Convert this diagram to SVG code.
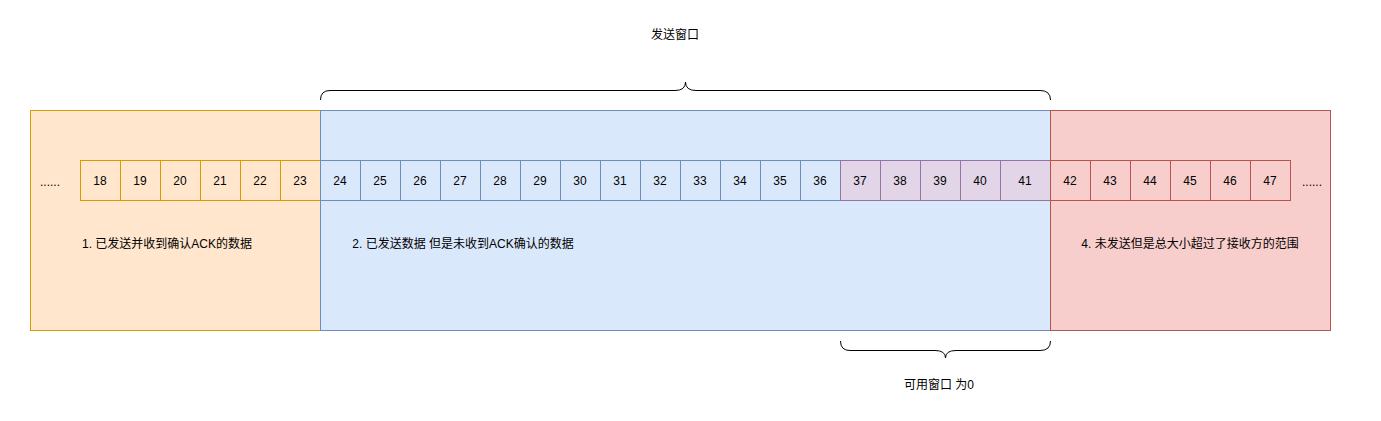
<svg xmlns="http://www.w3.org/2000/svg" width="1381" height="421" viewBox="0 0 1381 421">
<style>
text{font-family:"Liberation Sans","Noto Sans CJK SC",sans-serif;font-size:12px;fill:#000;text-anchor:middle;dominant-baseline:central}
.o{fill:#ffe6cc;stroke:#d79b00}
.b{fill:#dae8fc;stroke:#6c8ebf}
.r{fill:#f8cecc;stroke:#b85450}
.p{fill:#e1d5e7;stroke:#9673a6}
.br{fill:none;stroke:#000;stroke-width:1}
</style>
<rect width="1381" height="421" fill="#fff"/>
<g id="region1"><rect class="o" x="30.5" y="110.5" width="290" height="220"/><text x="167" y="244">1. 已发送并收到确认ACK的数据</text></g>
<g id="region2"><rect class="b" x="320.5" y="110.5" width="730" height="220"/><text x="463" y="244">2. 已发送数据 但是未收到ACK确认的数据</text></g>
<g id="region4"><rect class="r" x="1050.5" y="110.5" width="280" height="220"/><text x="1190" y="244">4. 未发送但是总大小超过了接收方的范围</text></g>
<g id="dots-left"><text x="50" y="182">......</text></g>
<g id="dots-right"><text x="1312" y="182">......</text></g>
<g id="cells">
<g id="c18"><rect class="o" x="80.5" y="160.5" width="40" height="40"/><text x="100" y="181">18</text></g>
<g id="c19"><rect class="o" x="120.5" y="160.5" width="40" height="40"/><text x="140" y="181">19</text></g>
<g id="c20"><rect class="o" x="160.5" y="160.5" width="40" height="40"/><text x="180" y="181">20</text></g>
<g id="c21"><rect class="o" x="200.5" y="160.5" width="40" height="40"/><text x="220" y="181">21</text></g>
<g id="c22"><rect class="o" x="240.5" y="160.5" width="40" height="40"/><text x="260" y="181">22</text></g>
<g id="c23"><rect class="o" x="280.5" y="160.5" width="40" height="40"/><text x="300" y="181">23</text></g>
<g id="c24"><rect class="b" x="320.5" y="160.5" width="40" height="40"/><text x="340" y="181">24</text></g>
<g id="c25"><rect class="b" x="360.5" y="160.5" width="40" height="40"/><text x="380" y="181">25</text></g>
<g id="c26"><rect class="b" x="400.5" y="160.5" width="40" height="40"/><text x="420" y="181">26</text></g>
<g id="c27"><rect class="b" x="440.5" y="160.5" width="40" height="40"/><text x="460" y="181">27</text></g>
<g id="c28"><rect class="b" x="480.5" y="160.5" width="40" height="40"/><text x="500" y="181">28</text></g>
<g id="c29"><rect class="b" x="520.5" y="160.5" width="40" height="40"/><text x="540" y="181">29</text></g>
<g id="c30"><rect class="b" x="560.5" y="160.5" width="40" height="40"/><text x="580" y="181">30</text></g>
<g id="c31"><rect class="b" x="600.5" y="160.5" width="40" height="40"/><text x="620" y="181">31</text></g>
<g id="c32"><rect class="b" x="640.5" y="160.5" width="40" height="40"/><text x="660" y="181">32</text></g>
<g id="c33"><rect class="b" x="680.5" y="160.5" width="40" height="40"/><text x="700" y="181">33</text></g>
<g id="c34"><rect class="b" x="720.5" y="160.5" width="40" height="40"/><text x="740" y="181">34</text></g>
<g id="c35"><rect class="b" x="760.5" y="160.5" width="40" height="40"/><text x="780" y="181">35</text></g>
<g id="c36"><rect class="b" x="800.5" y="160.5" width="40" height="40"/><text x="820" y="181">36</text></g>
<g id="c37"><rect class="p" x="840.5" y="160.5" width="40" height="40"/><text x="860" y="181">37</text></g>
<g id="c38"><rect class="p" x="880.5" y="160.5" width="40" height="40"/><text x="900" y="181">38</text></g>
<g id="c39"><rect class="p" x="920.5" y="160.5" width="40" height="40"/><text x="940" y="181">39</text></g>
<g id="c40"><rect class="p" x="960.5" y="160.5" width="40" height="40"/><text x="980" y="181">40</text></g>
<g id="c41"><rect class="p" x="1000.5" y="160.5" width="50" height="40"/><text x="1025" y="181">41</text></g>
<g id="c42"><rect class="r" x="1050.5" y="160.5" width="40" height="40"/><text x="1070" y="181">42</text></g>
<g id="c43"><rect class="r" x="1090.5" y="160.5" width="40" height="40"/><text x="1110" y="181">43</text></g>
<g id="c44"><rect class="r" x="1130.5" y="160.5" width="40" height="40"/><text x="1150" y="181">44</text></g>
<g id="c45"><rect class="r" x="1170.5" y="160.5" width="40" height="40"/><text x="1190" y="181">45</text></g>
<g id="c46"><rect class="r" x="1210.5" y="160.5" width="40" height="40"/><text x="1230" y="181">46</text></g>
<g id="c47"><rect class="r" x="1250.5" y="160.5" width="40" height="40"/><text x="1270" y="181">47</text></g>
</g>
<g id="send-window"><path class="br" d="M320.5,100 Q320.5,90.5 330,90.5 L675,90.5 Q685.5,90.5 685.5,82 Q685.5,90.5 696,90.5 L1040,90.5 Q1050.5,90.5 1050.5,100"/><text x="675" y="35">发送窗口</text></g>
<g id="usable-window"><path class="br" d="M840.5,341 Q840.5,350.5 850,350.5 L935,350.5 Q945.5,350.5 945.5,358 Q945.5,350.5 956,350.5 L1040,350.5 Q1050.5,350.5 1050.5,341"/><text x="939" y="385">可用窗口 为0</text></g>
</svg>
